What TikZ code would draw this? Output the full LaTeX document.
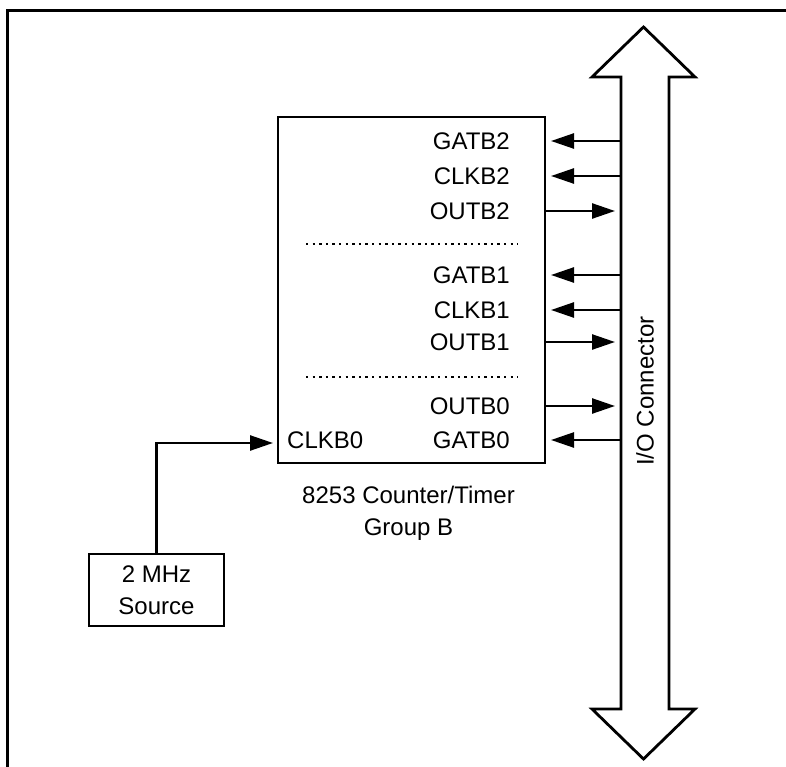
\documentclass[tikz,border=0pt]{standalone}
\usepackage{fontspec}
\setmainfont{Liberation Sans}
\usetikzlibrary{arrows.meta}
\begin{document}
\begin{tikzpicture}[x=1pt,y=-1pt,
  lbl/.style={inner sep=0pt,font=\fontsize{24}{28}\selectfont},
  sig/.style={line width=2.5pt,-{Triangle[length=23pt,width=15pt]}},
  boxstyle/.style={draw,line width=2.8pt,inner sep=0pt}]
\useasboundingbox (0,0) rectangle (786,767);
% frame
\draw[line width=3.5pt] (7.5,767) -- (7.5,10.5) -- (786,10.5);
% counter box
\node[boxstyle,minimum width=267pt,minimum height=346pt] (ctr) at (411.5,290) {};
% big connector arrow
\draw[line width=2.8pt,line join=miter]
  (621,77) -- (592,77) -- (643.5,27) -- (695,77) -- (669,77) -- (669,709)
  -- (695,709) -- (643.5,759) -- (592,709) -- (621,709) -- cycle;
\node[lbl,rotate=90] (io) at (645,391) {I/O Connector};
% labels
\node[lbl,anchor=east] (g2) at (510,141) {GATB2};
\node[lbl,anchor=east] (c2) at (510,176) {CLKB2};
\node[lbl,anchor=east] (o2) at (510,211) {OUTB2};
\node[lbl,anchor=east] (g1) at (510,275) {GATB1};
\node[lbl,anchor=east] (c1) at (510,310) {CLKB1};
\node[lbl,anchor=east] (o1) at (510,342) {OUTB1};
\node[lbl,anchor=east] (o0) at (510,406) {OUTB0};
\node[lbl,anchor=east] (g0) at (510,440) {GATB0};
\node[lbl,anchor=west] (ck0) at (287,440) {CLKB0};
% dotted separators
\draw[line width=2.6pt,dash pattern=on 2.4pt off 4.2pt] (306,244) -- (518,244);
\draw[line width=2.6pt,dash pattern=on 2.4pt off 4.2pt] (306,377) -- (518,377);
% connector coordinates
\foreach \n/\y in {g2/141,c2/176,o2/211,g1/275,c1/310,o1/342,o0/406,g0/440}{
  \coordinate (s\n) at (621,\y);
  \coordinate (b\n) at (545,\y);
}
\draw[sig,shorten >=6pt] (sg2) -- (bg2);
\draw[sig,shorten >=6pt] (sc2) -- (bc2);
\draw[sig,shorten >=6pt] (sg1) -- (bg1);
\draw[sig,shorten >=6pt] (sc1) -- (bc1);
\draw[sig,shorten >=6pt] (sg0) -- (bg0);
\draw[sig,shorten >=6pt] (bo2) -- (so2);
\draw[sig,shorten >=6pt] (bo1) -- (so1);
\draw[sig,shorten >=6pt] (bo0) -- (so0);
% source
\node[boxstyle,minimum width=135pt,minimum height=72pt,align=center,
  font=\fontsize{24}{32}\selectfont] (src) at (156.5,590) {2 MHz\\Source};
\coordinate (ckin) at (278,443);
\draw[sig,shorten >=5pt] (src.north) |- (ckin);
% caption
\node[lbl,align=center,font=\fontsize{24}{32}\selectfont] (cap) at (408.5,513) {8253 Counter/Timer\\Group B};
\end{tikzpicture}
\end{document}
